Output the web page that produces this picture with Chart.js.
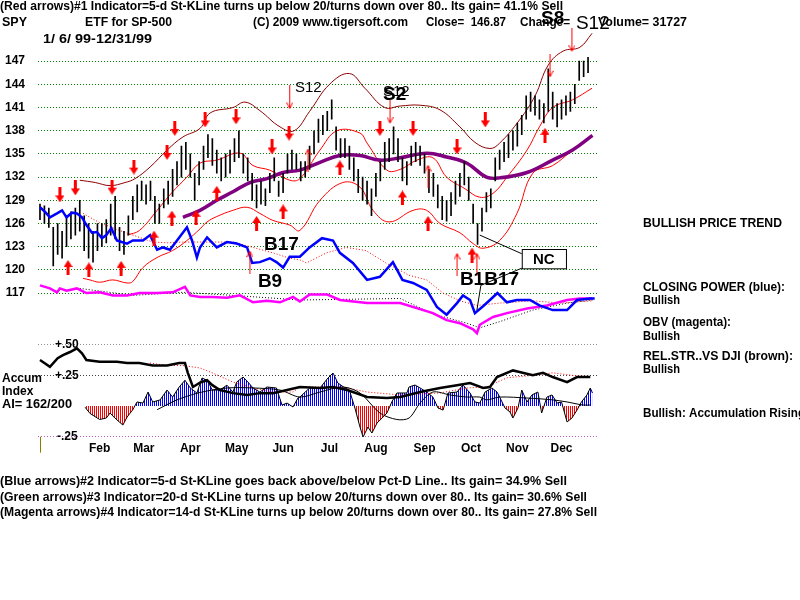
<!DOCTYPE html>
<html>
<head>
<meta charset="utf-8">
<script src="https://cdn.jsdelivr.net/npm/chart.js@4.4.0/dist/chart.umd.min.js"></script>
<style>
  html, body { margin: 0; padding: 0; background: #fff; }
  #wrap { width: 800px; height: 600px; }
</style>
</head>
<body>
<div id="wrap"><canvas id="spy-chart" width="800" height="600"></canvas></div>
<script>
// SPY 1999, day index = trading day since 1/6/99
const MONTHS = ['Feb', 'Mar', 'Apr', 'May', 'Jun', 'Jul', 'Aug', 'Sep', 'Oct', 'Nov', 'Dec'];
const MONTH_MID = [27, 47, 68, 89, 110, 131, 152, 174, 195, 216, 236];
const PRICE_TICKS = [117, 120, 123, 126, 129, 132, 135, 138, 141, 144, 147];
const ACC_TICKS = [0.5, 0.25, -0.25];

// one bar every second trading day
const BAR_STEP = 2;
const BAR_HIGH = [128.5,128.3,128,125.5,126,125,127,127.5,128,129, 127,126,125,126,126,126.5,128.5,129.5,125.5,125,
  127,129.5,131,131.5,131,131.5,129.5,128.5,130.5,131.5, 133,134,136,136.5,135,132.5,134,136,137.5,137,
  135.5,134.5,135,135.5,137,138,135,134.5,132.5,131, 131.5,130.5,132.5,134.5,131.5,132.5,135,135.5,135,134,
  134,136,138,139.5,140,140.5,142,138.5,137,137, 136,134.5,133,132,131.5,130.5,132.5,134,136.5,137,
  138.5,137,134.5,134,136,136.5,136,135,133,132.5, 131,129.5,129,130,131.5,132.5,134,132,128.5,126,
  128,130,130.5,134.5,135.5,136.5,137.5,138,139,140, 142.5,143,142.5,142,141.5,146,143,141.5,142,142.5,
  143,144,147,147,147.5];
const BAR_LOW = [126.5,126,125.5,120.5,122,121.5,123,124,124.5,125, 122.5,121.5,121,122.5,123,123.5,124.5,124,122.5,122,
  124.5,126.5,127.5,129,128.5,129,126,126,128,128.5, 129.5,131,132,133,132,129,131,133,134.5,133.5,
  132.5,131.5,132,132.5,134,134.5,132.5,131.5,129,128, 128.5,128.3,130,131.5,129.5,130,132.5,133,133,131.5,
  132,133,135,136.5,137.5,138,139.5,135.5,134.5,134.5, 133,131.5,130,129,128.5,127,129.5,131.5,133,134,
  135,134,131.5,131,133.5,134,133.5,132.5,130,129.5, 128,126.5,126.3,127,128.5,129.5,131,129,126,123.3,
  125,127.5,128,131.5,133,134,134.5,135.5,136,137.5, 139.5,140.5,140,139.5,139,140.5,139.5,138.5,139.5,140,
  140.5,141.5,144.5,145,145.5];

const UPPER_BAND = [[18,131.6],[25,131.3],[31.7,130.9],[38.5,131.3],[43,131.8],[49.8,133.3],[57.5,135.5],[64.7,137.2],
  [72.4,138.3],[77,140.3],[87.3,141],[92.8,141.7],[99.5,140.6],[108.6,138.5],[115,138],[122,140.5],[131,144],
  [140,145.4],[147,143.5],[156,141],[163,141.2],[172,141.3],[181,140.7],[190,138.5],[196.8,136.5],[203.6,135.7],
  [208,136.4],[217,139.4],[224,142.5],[230,146.5],[236.7,148.3],[244.3,148.8],[249.8,150.6]];
const MID_BAND = [[39.4,124.5],[45,125.1],[53,127.7],[59.7,130],[66.5,132],[72.4,133.8],[80,134.2],[90.5,135.1],
  [96.4,133.5],[104,132.9],[113,131.6],[117.6,131.8],[126.7,135.5],[134.4,138],[144.8,137.7],[148,136.4],
  [157,132.9],[163,133],[170.6,134.2],[177.8,134.5],[184,132],[192.3,130.5],[199,129.4],[205,129.9],
  [211.3,132],[220.4,135.5],[226,138.5],[232,141],[241,142],[249.8,143.5]];
const LOWER_BAND = [[19.5,118.9],[22.6,118.7],[27,118.4],[33,118.7],[39.4,118.3],[42,118.5],[46.6,120.3],[53,121.6],
  [60,122.5],[66.5,123.8],[72.4,125.3],[75.6,126.2],[80,126.9],[87.3,127.7],[93.7,128.1],[99.5,127.3],
  [105.4,126.4],[113,125.8],[117.6,125.1],[126.7,129],[137,131.3],[144.8,130.7],[150.7,127.7],[158,126.2],
  [168.8,127.7],[175,127.7],[181,126],[190,124.8],[196,123.4],[200.5,122.8],[208,123.8],[215.8,127.3],
  [223,132.5],[232,133.5],[241,135.5],[249.8,137.4]];
const PRICE_MA = [[64.7,126.8],[72.4,127.7],[80,129],[87.3,130.1],[95,131.3],[102.7,131.8],[110,132.6],[117.6,132.9],
  [126.7,133.9],[135.7,134.8],[144.8,134.8],[153.8,134.2],[163,134.5],[175,135.1],[184,134.6],[193.2,133.8],
  [202,132],[208,131.9],[220.4,132.6],[232,134.2],[241,135.5],[250,137.4]];

const CLOSING_POWER = [[0,128.1],[2.3,127.5],[4.5,126.8],[7.7,127.3],[10,127.7],[12,126.8],[14.5,127.4],[16.7,127.3],
  [19,126.8],[21,125.8],[23.5,124.8],[25.8,124.9],[28,124.1],[30,124.5],[32.3,125.4],[34.8,123.8],[37,123.6],
  [39.4,123.4],[42,123.8],[46.6,123.8],[49.8,124.5],[53,122.6],[55.7,122.9],[58.8,122.6],[62,123.8],[66.5,125.5],
  [68.8,123.8],[71,121.6],[72.4,122.9],[75.6,124.2],[80,122.9],[84.6,123.6],[89,123.4],[93.7,122.9],[96,120.9],
  [99.5,121],[104,121.5],[107,121],[110,120.3],[113,121.7],[117.6,121.7],[122,122.9],[127.6,124.1],[132.6,123.8],
  [135.7,122.2],[141.6,120.9],[148,118.7],[153.8,119.1],[159.7,121],[164,118.7],[168.8,118.3],[175,117.4],
  [179.6,115.2],[184,114.2],[188.7,115.7],[191.4,116.7],[194.6,116.1],[196.8,114.4],[200.5,115.3],[203.6,116.1],
  [207,117],[211.3,115.8],[215.8,116.1],[221.7,116.1],[226,115.4],[232,114.8],[238.5,114.8],[243,116.1],
  [249,116.3],[251,116.3]];
const CP_MA = [[19.5,127.3],[27,126.1],[36,125.1],[45,124.2],[51,123.6],[57.5,123.5],[64.7,123.6],[75.6,123.6],
  [87.3,123.6],[96.4,122.9],[105.4,122.2],[113,121.5],[117.6,121.3],[120.6,120.9],[129.6,122.2],[138.5,122.9],
  [147.5,122.5],[156.5,120.9],[167,119.3],[175,118.7],[182.4,117],[190,116],[197.7,115.4],[208,115.7],
  [223,116],[235.3,115.7],[250,116]];
const OBV = [[0,118],[4.5,117.6],[7.7,117.1],[9,117.6],[12,117.3],[16.7,117.6],[21,117],[27,117.1],[33,116.7],
  [39.4,116.7],[45,117],[53,117],[60,117.1],[65.6,117.8],[68,116.7],[72.4,116.5],[78,116.5],[84.6,116.4],
  [90.5,116.7],[96.4,115.8],[102.7,116],[108.6,115.8],[114.5,116.5],[117.6,115.9],[122,116.8],[130,116.8],
  [135.7,116.1],[148,115.7],[163,115.7],[177.8,114.4],[184,113.5],[190,113.1],[196,112.3],[197.7,111.8],
  [199,112.9],[205,113.9],[211.3,114.4],[220.4,115],[229.4,115.4],[238.5,116.1],[244.3,116.3],[250,116.3]];
const OBV_MA = [[18,117.6],[42,116.7],[64.7,117.1],[87.3,116.7],[117.6,116.1],[163,116.3],[177.8,114.3],
  [193.2,113.1],[199,112.5],[208,113.3],[223,114.8],[238.5,115.7],[250,116.1]];

const ACCUM = [[20.4,-0.01],[22.6,-0.06],[27,-0.11],[30,-0.098],[31.7,-0.057],[33.9,-0.098],[37.5,-0.155],[39.4,-0.09],
  [42,-0.03],[43.9,0.033],[46.6,0.024],[48.9,0.114],[51,0.033],[54.3,0.049],[57.5,0.13],[60,0.073],[63,0.155],
  [65.6,0.21],[68,0.147],[71,0.106],[73.3,0.228],[75.6,0.21],[78,0.13],[81.4,0.13],[84.6,0.17],[87.3,0.114],
  [89,0.195],[91.9,0.236],[94.1,0.195],[96.4,0.147],[99.5,0.114],[102.7,0.155],[107,0.147],[109.5,0.008],
  [111.8,0.024],[114.5,-0.008],[116.7,0.065],[117.6,0.073],[122,0.147],[126.7,0.147],[130.3,0.228],[132.6,0.269],
  [134.8,0.187],[138,0.147],[140,0.13],[142.5,-0.016],[144.8,-0.171],[146.2,-0.252],[148.4,-0.171],[150.2,-0.22],
  [152.5,-0.139],[154.8,-0.098],[157,-0.057],[159.2,0.033],[161.5,0.106],[166,0.106],[167,0.155],[169.7,0.171],
  [172,0.147],[175,0.114],[177.8,0.073],[180.1,-0.016],[182.4,-0.033],[184.6,0.106],[188.7,0.114],[191.4,0.171],
  [194.6,0.106],[196.8,0.033],[199,0.024],[201.4,0.114],[204.5,0.147],[206.8,0.114],[208,0.073],[210.4,-0.016],
  [212.7,-0.049],[214,-0.098],[216.3,-0.016],[218,0.13],[220.4,0.033],[222.6,0.09],[225.3,0.114],[227,-0.057],
  [229.4,0.073],[231.7,0.09],[234,0.024],[236,0.033],[238.5,-0.13],[240.7,-0.098],[243,-0.033],[245,0.033],
  [247.5,0.09],[249,0.147],[250,0.106]];
const REL_STR = [[0,0.375],[4.5,0.32],[8,0.39],[10.4,0.415],[13.6,0.44],[16.7,0.47],[19,0.43],[21,0.375],[27,0.36],
  [34.8,0.36],[39.4,0.35],[45,0.35],[51,0.33],[57.5,0.33],[63,0.35],[65.6,0.35],[66.9,0.27],[69.2,0.155],
  [72.4,0.19],[75.6,0.21],[78,0.17],[81.4,0.13],[87.3,0.105],[93.7,0.09],[99.5,0.105],[105.4,0.105],[111.8,0.13],
  [117.6,0.155],[126.7,0.147],[132.6,0.155],[139,0.13],[148,0.073],[157,0.065],[163,0.073],[172,0.114],
  [181,0.147],[188.7,0.17],[194.6,0.187],[200.5,0.147],[203.6,0.155],[206.8,0.236],[214,0.29],[217,0.277],
  [223,0.25],[227.6,0.27],[232,0.236],[238.5,0.195],[243,0.236],[249,0.236]];
const ACCUM_MA = [[53,-0.03],[62,0.05],[72.4,0.11],[84.6,0.147],[96.4,0.147],[108.6,0.13],[117.6,0.073],[126.7,0.114],
  [137,0.155],[144.8,0.106],[153.8,-0.057],[161.5,-0.11],[167,-0.098],[172,0.024],[177.8,0.114],[185.5,0.09],
  [193.2,0.073],[199,0.073],[202,0.05],[208,0.073],[220.4,0.065],[232,0.05],[238.5,0.033],[245.7,0.008],[249,0.008]];
const REL_STR_MA = [[49.8,0.35],[57.5,0.33],[64.7,0.33],[72.4,0.31],[78,0.27],[87.3,0.195],[96.4,0.147],[105.4,0.114],
  [114.5,0.114],[117.6,0.155],[137,0.155],[148,0.114],[163,0.09],[181,0.106],[193.2,0.147],[202,0.155],
  [211.3,0.23],[223,0.25],[232,0.27],[241,0.25],[249,0.236]];

// red arrows (day, price)
const SELL_ARROWS = [[9,129.7],[16,130.6],[32.6,130.7],[42.5,133.3],[57.5,135.2],[61,138.3],[74.7,139.4],[88.7,139.8],
  [105,135.9],[112.7,137.7],[153.8,138.3],[168.8,138.3],[188.7,135.9],[201.5,139.4]];
const BUY_ARROWS = [[12.7,120.3],[22.1,120],[36.7,120.2],[51.6,124.1],[59.7,126.7],[70.6,126.8],[80,129.9],[98,126],
  [110,127.5],[135.7,133.2],[164,129.3],[175.6,126],[195.5,121.9],[228.5,137.4]];
const SELL_SIGNALS = [[113,142.3],[158.4,140.4],[230.8,146.4],[240.7,149.7]];
const BUY_SIGNALS = [[95,121],[121.3,134.2],[175.6,132.1],[188.7,120.7],[197.7,120.7]];

const FONT = '"Liberation Sans", Arial, sans-serif';
const bold = s => `bold ${s}px ${FONT}`;

const canvas = document.getElementById('spy-chart');
const mainCtx = canvas.getContext('2d');
const toXY = arr => arr.map(([x, y]) => ({ x, y }));

function stripes(color) {
  const c = document.createElement('canvas');
  c.width = 2; c.height = 1;
  const g = c.getContext('2d');
  g.fillStyle = color;
  g.fillRect(0, 0, 1, 1);
  return mainCtx.createPattern(c, 'repeat');
}

function arrowImg(up, thick) {
  const c = document.createElement('canvas');
  c.width = thick ? 9 : 7;
  c.height = thick ? 15 : 24;
  const g = c.getContext('2d');
  if (up) { g.translate(0, c.height); g.scale(1, -1); }
  g.fillStyle = '#ff0000';
  g.strokeStyle = '#ff0000';
  if (thick) {
    g.fillRect(3, 0, 3, 9);
    g.beginPath(); g.moveTo(0, 8); g.lineTo(9, 8); g.lineTo(4.5, 15); g.closePath(); g.fill();
  } else {
    g.lineWidth = 1;
    g.beginPath();
    g.moveTo(3.5, 0); g.lineTo(3.5, 23);
    g.moveTo(0.5, 17); g.lineTo(3.5, 23); g.lineTo(6.5, 17);
    g.stroke();
  }
  return c;
}

function fitText(ctx, text, x, y, width) {
  ctx.save();
  ctx.translate(x, y);
  if (width) ctx.scale(width / ctx.measureText(text).width, 1);
  ctx.fillText(text, 0, 0);
  ctx.restore();
}

const line = (data, color, width, extra) => Object.assign({
  type: 'line', data: toXY(data), borderColor: color, borderWidth: width,
  pointRadius: 0, fill: false, yAxisID: 'y', clip: false
}, extra);

const marks = (data, img) => ({
  type: 'line', data: toXY(data), showLine: false, pointStyle: img,
  pointRadius: 4, yAxisID: 'y', clip: false
});

const HEADER = [
  ['(Red arrows)#1 Indicator=5-d St-KLine turns up below 20/turns down over 80.. Its gain= 41.1% Sell', 0, 7, 563],
  ['SPY', 2, 23, 25],
  ['ETF for SP-500', 85, 23, 87],
  ['(C) 2009 www.tigersoft.com', 253, 23, 155],
  ['Close=  146.87', 426, 23, 80],
  ['Change=', 520, 23, 50],
  ['Volume= 31727', 598, 23, 89],
  ['1/ 6/ 99-12/31/99', 43, 40, 109],
  ['Accum', 2, 379, null],
  ['Index', 2, 392, null],
  ['AI= 162/200', 2, 405, 70],
  ['BULLISH PRICE TREND', 643, 224, 139],
  ['CLOSING POWER (blue):', 643, 288, 142],
  ['Bullish', 643, 301, 37],
  ['OBV (magenta):', 643, 323, 88],
  ['Bullish', 643, 337, 37],
  ['REL.STR..VS DJI (brown):', 643, 357, 150],
  ['Bullish', 643, 370, 37],
  ['Bullish: Accumulation Rising', 643, 414, 162],
  ['(Blue arrows)#2 Indicator=5-d St-KLine goes back above/below Pct-D Line.. Its gain= 34.9% Sell', 0, 482, 567],
  ['(Green arrows)#3 Indicator=20-d St-KLine turns up below 20/turns down over 80.. Its gain= 30.6% Sell', 0, 498, 587],
  ['(Magenta arrows)#4 Indicator=14-d St-KLine turns up below 20/turns down over 80.. Its gain= 27.8% Sell', 0, 513, 597]
];

const SIGNAL_TEXT = [
  ['S12', 115.4, 143.6, `${15}px ${FONT}`],
  ['S12', 155.2, 143.0, `${15}px ${FONT}`],
  ['S2', 155.2, 142.6, bold(19)],
  ['S8', 226.7, 152.5, bold(19)],
  ['S12', 242.5, 151.9, `${19}px ${FONT}`],
  ['B17', 101.4, 123.3, bold(19)],
  ['B9', 98.6, 118.5, bold(19)],
  ['B1B17', 190, 118.7, bold(19)]
];

const overlay = {
  id: 'overlay',
  afterDraw(chart) {
    const { ctx, scales } = chart;
    const px = d => scales.x.getPixelForValue(d);
    const py = p => scales.y.getPixelForValue(p);
    ctx.save();
    ctx.fillStyle = '#000';
    ctx.textBaseline = 'middle';
    ctx.textAlign = 'left';
    ctx.font = bold(12);
    HEADER.forEach(([t, x, y, w]) => fitText(ctx, t, x, y, w));
    ACC_TICKS.forEach(v => {
      const label = (v > 0 ? '+' : '-') + Math.abs(v).toFixed(2).slice(1);
      fitText(ctx, label, v > 0 ? 55 : 57, scales.acc.getPixelForValue(v), null);
    });
    SIGNAL_TEXT.forEach(([t, d, p, f]) => {
      ctx.font = f;
      ctx.fillText(t, px(d), py(p));
    });
    // NC note with its leader lines
    ctx.strokeStyle = '#000';
    ctx.lineWidth = 1;
    ctx.beginPath();
    ctx.moveTo(px(199), py(124.5)); ctx.lineTo(px(219.5), py(121.9));
    ctx.moveTo(px(222), py(120.7)); ctx.lineTo(px(199.5), py(118)); ctx.lineTo(px(197.7), py(114.8));
    ctx.stroke();
    const bx = px(218), by = py(122.7), bw = px(238) - bx, bh = py(120.2) - by;
    ctx.fillStyle = '#fff';
    ctx.fillRect(bx, by, bw, bh);
    ctx.strokeRect(bx + 0.5, by + 0.5, bw, bh);
    ctx.fillStyle = '#000';
    ctx.font = bold(15);
    ctx.textAlign = 'center';
    ctx.fillText('NC', bx + bw / 2, by + bh / 2 + 1);
    // small olive marker under the first day of the accumulation panel
    ctx.strokeStyle = '#808000';
    ctx.beginPath();
    ctx.moveTo(px(0) + 0.5, scales.acc.getPixelForValue(-0.25));
    ctx.lineTo(px(0) + 0.5, scales.acc.getPixelForValue(-0.25) + 16);
    ctx.stroke();
    ctx.restore();
  }
};

new Chart(canvas, {
  type: 'line',
  data: {
    datasets: [
      marks(SELL_SIGNALS, arrowImg(false, false)),
      marks(BUY_SIGNALS, arrowImg(true, false)),
      marks(SELL_ARROWS, arrowImg(false, true)),
      marks(BUY_ARROWS, arrowImg(true, true)),
      line(CLOSING_POWER, '#0000ff', 2.5),
      line(OBV, '#ff00ff', 2.5),
      {
        type: 'bar', yAxisID: 'y', backgroundColor: '#000', barThickness: 1, grouped: false,
        data: BAR_HIGH.map((h, k) => ({ x: k * BAR_STEP, y: [BAR_LOW[k], h] }))
      },
      line(PRICE_MA, '#800080', 3.5, { tension: 0.4 }),
      line(UPPER_BAND, '#8b0000', 1, { tension: 0.4 }),
      line(MID_BAND, '#ff0000', 1, { tension: 0.4 }),
      line(LOWER_BAND, '#ff0000', 1, { tension: 0.4 }),
      line(CP_MA, '#ff0000', 1, { borderDash: [1, 2] }),
      line(OBV_MA, '#000000', 1, { borderDash: [1, 2] }),
      line(REL_STR, '#000000', 2.5, { yAxisID: 'acc' }),
      line(ACCUM_MA, '#000000', 1, { yAxisID: 'acc', tension: 0.3 }),
      line(REL_STR_MA, '#ff0000', 1, { yAxisID: 'acc', borderDash: [1, 2] }),
      line(ACCUM, '#000000', 1, {
        yAxisID: 'acc',
        fill: { target: 'origin', above: stripes('#0000ff'), below: stripes('#ff0000') }
      })
    ]
  },
  options: {
    responsive: false,
    animation: false,
    devicePixelRatio: 1,
    layout: { padding: { top: 20, left: 0, right: 202, bottom: 140 } },
    plugins: { legend: { display: false }, tooltip: { enabled: false } },
    scales: {
      x: {
        type: 'linear', min: -0.9, max: 252.5, bounds: 'data', offset: false,
        grid: { display: false, drawTicks: false, offset: false },
        border: { display: false },
        afterBuildTicks: s => { s.ticks = MONTH_MID.map(v => ({ value: v })); },
        afterFit: s => { s.height = 20; },
        ticks: {
          callback: (v, i) => MONTHS[i], autoSkip: false, maxRotation: 0, padding: 1,
          color: '#000', font: { family: FONT, weight: 'bold', size: 12 }
        }
      },
      y: {
        position: 'left', min: 97.99, max: 152.3, bounds: 'data',
        afterBuildTicks: s => { s.ticks = PRICE_TICKS.map(v => ({ value: v })); },
        afterFit: s => { s.width = 38; },
        grid: { color: '#008000', drawTicks: false },
        border: { display: false, dash: [1, 2] },
        ticks: { padding: 13, color: '#000', font: { family: FONT, weight: 'bold', size: 12 } }
      },
      acc: {
        position: 'right', min: -0.2769, max: 3.1433, bounds: 'data',
        afterBuildTicks: s => { s.ticks = ACC_TICKS.map(v => ({ value: v })); },
        afterFit: s => { s.width = 0; },
        grid: {
          drawTicks: false,
          color: c => c.tick.value > 0.4 ? '#909090' : c.tick.value > 0 ? '#404040' : '#c060c0'
        },
        border: { display: false, dash: [1, 2] },
        ticks: { display: false }
      }
    }
  },
  plugins: [overlay]
});
</script>
</body>
</html>
